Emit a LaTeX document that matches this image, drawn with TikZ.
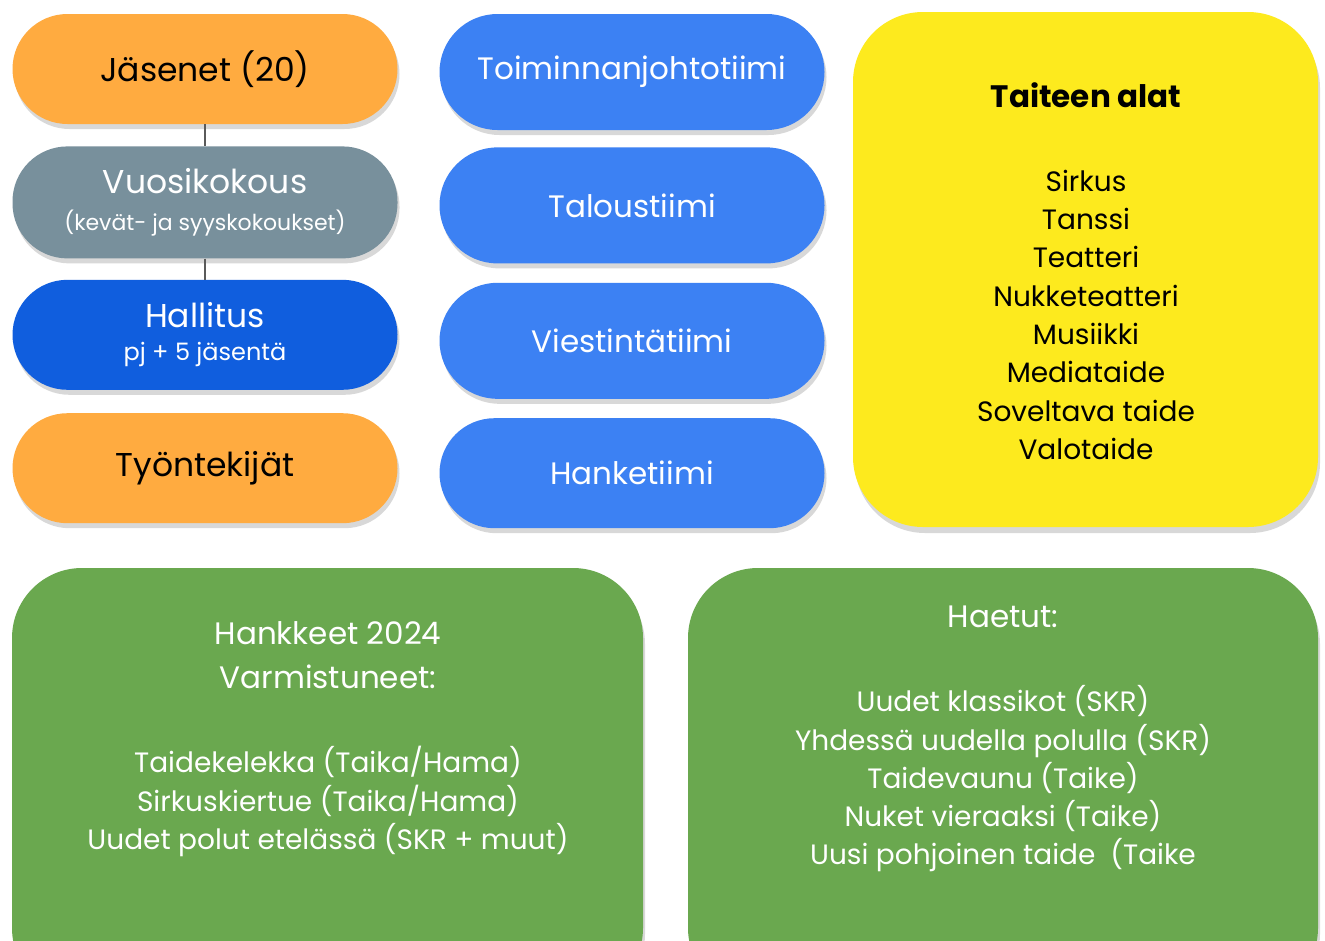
\documentclass[tikz,border=0pt]{standalone}
\usepackage{fontspec}
\setmainfont{Poppins}
\usetikzlibrary{positioning,shadows}
\definecolor{jorange}{RGB}{255,171,64}
\definecolor{jgrey}{RGB}{120,144,156}
\definecolor{jdarkblue}{RGB}{16,94,222}
\definecolor{jblue}{RGB}{60,129,243}
\definecolor{jyellow}{RGB}{253,234,30}
\definecolor{jgreen}{RGB}{106,168,79}
\definecolor{jline}{RGB}{90,90,90}
\tikzstyle{pill} = [rectangle, rounded corners=55pt, minimum width=385pt, minimum height=110pt, align=center, drop shadow={opacity=0.3, shadow xshift=2pt, shadow yshift=-5pt}]
\tikzstyle{team} = [pill, fill=jblue, text=white, minimum height=116pt, rounded corners=58pt, font=\fontsize{31}{36}\selectfont]
\tikzstyle{bigbox} = [rectangle, rounded corners=70pt, drop shadow={opacity=0.3, shadow xshift=2pt, shadow yshift=-6pt}]
\tikzstyle{listtext} = [align=center, font=\fontsize{28}{38.3}\selectfont]
\tikzstyle{link} = [line width=1.5pt, draw=jline]

\begin{document}
\begin{tikzpicture}[x=1pt, y=-1pt, node distance=22pt]
\fill[white] (0,0) rectangle (1325,940);
\useasboundingbox (0,0) rectangle (1325,940);
% left column
\node[pill, fill=jorange, font=\fontsize{33}{36}\selectfont] (jasenet) at (205,69) {Jäsenet (20)};
\node[pill, fill=jgrey, text=white, minimum height=112pt, below=22pt of jasenet] (vuosikokous) {{\fontsize{33}{36}\selectfont Vuosikokous}\\[15pt]{\fontsize{22}{24}\selectfont (kevät- ja syyskokoukset)}};
\node[pill, fill=jdarkblue, text=white, below=21pt of vuosikokous] (hallitus) {{\fontsize{33}{36}\selectfont Hallitus}\\[13pt]{\fontsize{24}{24}\selectfont pj + 5 jäsentä}};
\node[pill, fill=jorange, font=\fontsize{33}{36}\selectfont, below=23pt of hallitus] (tyontekijat) {Työntekijät};
% teams
\node[team] (toiminta) at (632,72) {Toiminnanjohtotiimi};
\node[team, below=17pt of toiminta] (talous) {Taloustiimi};
\node[team, below=19pt of talous] (viestinta) {Viestintätiimi};
\node[team, minimum height=110pt, rounded corners=55pt, below=19pt of viestinta] (hanke) {Hanketiimi};
% art forms
\node[bigbox, fill=jyellow, minimum width=465pt, minimum height=515pt] (taide) at (1085.5,269.5) {};
\node[listtext] (alat) at (1086,271) {{\bfseries\fontsize{31}{38.3}\selectfont Taiteen alat}\\[46pt]
  Sirkus\\ Tanssi\\ Teatteri\\ Nukketeatteri\\ Musiikki\\ Mediataide\\ Soveltava taide\\ Valotaide};
% projects
\node[bigbox, fill=jgreen, minimum width=631pt, minimum height=430pt] (varmat) at (327.5,783) {};
\node[listtext, text=white] (varmatlista) at (328,739) {{\fontsize{31}{38.3}\selectfont Hankkeet 2024}\\[6pt]{\fontsize{31}{38.3}\selectfont Varmistuneet:}\\[46pt]
  Taidekelekka (Taika/Hama)\\ Sirkuskiertue (Taika/Hama)\\ Uudet polut etelässä (SKR + muut)};
\node[bigbox, fill=jgreen, minimum width=630pt, minimum height=430pt] (haetut) at (1003,783) {};
\node[listtext, text=white] (haetutlista) at (1003,739) {{\fontsize{31}{38.3}\selectfont Haetut:}\\[46pt]
  Uudet klassikot (SKR)\\ Yhdessä uudella polulla (SKR)\\ Taidevaunu (Taike)\\ Nuket vieraaksi (Taike)\\ Uusi pohjoinen taide\ \ (Taike};
% links
\draw[link] (jasenet) -- (vuosikokous);
\draw[link] (vuosikokous) -- (hallitus);
\end{tikzpicture}
\end{document}
